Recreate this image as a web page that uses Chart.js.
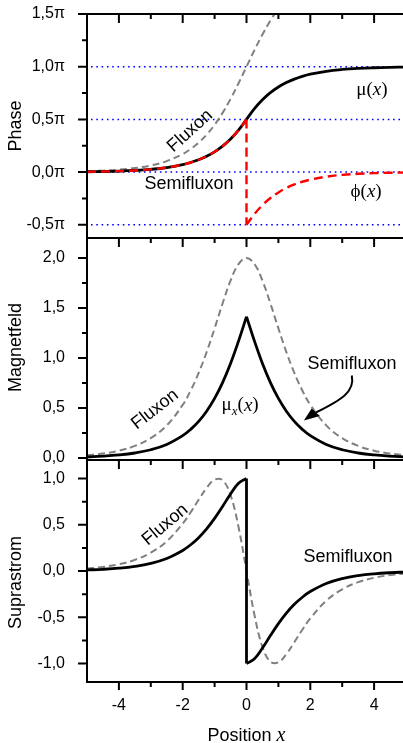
<!DOCTYPE html>
<html>
<head>
<meta charset="utf-8">
<script src="https://cdn.jsdelivr.net/npm/chart.js@4.4.0/dist/chart.umd.min.js"></script>
<style>
  html, body { margin: 0; padding: 0; background: #fff; }
  body { width: 403px; height: 743px; overflow: hidden; position: relative; }
  canvas { position: absolute; left: 0; }
</style>
</head>
<body>
<canvas id="phaseChart" width="406" height="284" style="top:-16px"></canvas>
<canvas id="fieldChart" width="406" height="282" style="top:208px"></canvas>
<canvas id="currentChart" width="406" height="313" style="top:430px"></canvas>
<script>
// positions along the junction
const xAll = [-5, -4.5, -4, -3.5, -3, -2.5, -2, -1.75, -1.5, -1.25, -1, -0.75, -0.5, -0.25, 0,
              0.25, 0.5, 0.75, 1, 1.25, 1.5, 1.75, 2, 2.5, 3, 3.5, 4, 4.5, 5];
const xLeft = [-5, -4.5, -4, -3.5, -3, -2.5, -2, -1.75, -1.5, -1.25, -1, -0.75, -0.5, -0.25, 0];
const xRight = [0, 0.25, 0.5, 0.75, 1, 1.25, 1.5, 1.75, 2, 2.5, 3, 3.5, 4, 4.5, 5];
const xTicks = [-4, -2, 0, 2, 4];

// phase (units of pi)
const fluxonPhase = [0.0086, 0.0141, 0.0233, 0.0384, 0.0633, 0.1043, 0.1713, 0.2191, 0.2795, 0.3553, 0.4488, 0.5619, 0.6942, 0.8425, 1.0,
                     1.1575, 1.3058, 1.4381, 1.5512, 1.6447, 1.7205, 1.7809, 1.8287, 1.8957, 1.9367, 1.9616, 1.9767, 1.9859, 1.9914];
const semiMu = [0.0036, 0.0059, 0.0097, 0.0159, 0.0263, 0.0433, 0.0713, 0.0915, 0.1173, 0.1504, 0.1925, 0.2460, 0.3134, 0.3973, 0.5,
                0.6027, 0.6866, 0.7540, 0.8075, 0.8496, 0.8827, 0.9085, 0.9287, 0.9567, 0.9737, 0.9841, 0.9903, 0.9941, 0.9964];
const semiPhiLeft = [0.0036, 0.0059, 0.0097, 0.0159, 0.0263, 0.0433, 0.0713, 0.0915, 0.1173, 0.1504, 0.1925, 0.2460, 0.3134, 0.3973, 0.5];
const semiPhiRight = [-0.5, -0.3973, -0.3134, -0.2460, -0.1925, -0.1504, -0.1173, -0.0915, -0.0713, -0.0433, -0.0263, -0.0159, -0.0097, -0.0059, -0.0036];
const phaseTicks = [-0.5, 0, 0.5, 1.0, 1.5];
const phaseGuides = [1.0, 0.5, 0, -0.5];

// magnetic field
const fluxonField = [0.0270, 0.0444, 0.0732, 0.1207, 0.1987, 0.3261, 0.5316, 0.6747, 0.8502, 1.0591, 1.2961, 1.5448, 1.7736, 1.9391, 2.0,
                     1.9391, 1.7736, 1.5448, 1.2961, 1.0591, 0.8502, 0.6747, 0.5316, 0.3261, 0.1987, 0.1207, 0.0732, 0.0444, 0.0270];
const semiFieldLeft = [0.0112, 0.0184, 0.0303, 0.0500, 0.0825, 0.1358, 0.2235, 0.2864, 0.3666, 0.4681, 0.5957, 0.7538, 0.9453, 1.1687, 1.4142];
const semiFieldRight = [1.4142, 1.1687, 0.9453, 0.7538, 0.5957, 0.4681, 0.3666, 0.2864, 0.2235, 0.1358, 0.0825, 0.0500, 0.0303, 0.0184, 0.0112];
const fieldTicks = [0, 0.5, 1.0, 1.5, 2.0];

// supercurrent
const fluxonCurrent = [0.0269, 0.0444, 0.0732, 0.1205, 0.1977, 0.3218, 0.5125, 0.6352, 0.7695, 0.8984, 0.9871, 0.9812, 0.8196, 0.4749, 0,
                       -0.4749, -0.8196, -0.9812, -0.9871, -0.8984, -0.7695, -0.6352, -0.5125, -0.3218, -0.1977, -0.1205, -0.0732, -0.0444, -0.0269];
const semiCurrentLeft = [0.0112, 0.0184, 0.0303, 0.0500, 0.0824, 0.1355, 0.2221, 0.2835, 0.3604, 0.4551, 0.5687, 0.6982, 0.8330, 0.9484, 1.0];
const semiCurrentRight = [-1.0, -0.9484, -0.8330, -0.6982, -0.5687, -0.4551, -0.3604, -0.2835, -0.2221, -0.1355, -0.0824, -0.0500, -0.0303, -0.0184, -0.0112];
const currentTicks = [-1.0, -0.5, 0, 0.5, 1.0];

const SANS = '"Liberation Sans", Arial, sans-serif';
const SERIF = '"Liberation Serif", "Times New Roman", serif';
const GREY = '#808080';

function pts(xs, ys) {
  return xs.map((x, i) => ({ x: x, y: ys[i] }));
}

// two branches meeting at x = 0; the gaps keep the spline from bending across the jump
function splitAtZero(left, right) {
  const gap = { x: 0, y: null };
  return [].concat(pts(xLeft, left), [gap, { x: 0, y: left[left.length - 1] }, { x: 0, y: right[0] }, gap], pts(xRight, right));
}

function midpoints(vals) {
  const out = [];
  for (let i = 0; i < vals.length - 1; i++) out.push((vals[i] + vals[i + 1]) / 2);
  return out;
}

const comma = v => v.toFixed(1).replace('.', ',');

const blackLine = { borderColor: '#000', borderWidth: 2.8, pointRadius: 0, tension: 0.4, fill: false };
const greyDash = { borderColor: GREY, borderWidth: 2, borderDash: [7, 4], pointRadius: 0, tension: 0.4, fill: false };
const redDash = { borderColor: '#ff0000', borderWidth: 2.4, borderDash: [9, 5], pointRadius: 0, tension: 0.4, fill: false };

function drawRich(ctx, parts, x, y, angle) {
  ctx.save();
  ctx.translate(x, y);
  ctx.rotate((angle || 0) * Math.PI / 180);
  ctx.textBaseline = 'middle';
  ctx.textAlign = 'left';
  ctx.fillStyle = '#000';
  let total = 0;
  parts.forEach(p => { ctx.font = p.font; p.w = ctx.measureText(p.t).width; total += p.w; });
  let cx = -total / 2;
  parts.forEach(p => {
    ctx.font = p.font;
    ctx.fillText(p.t, cx, p.dy || 0);
    cx += p.w;
  });
  ctx.restore();
}

const sans = t => ({ t: t, font: '18px ' + SANS });
const upr = t => ({ t: t, font: '19px ' + SERIF });
const ital = t => ({ t: t, font: 'italic 19px ' + SERIF });

function decor(cfg) {
  return {
    id: 'decor' + cfg.name,
    beforeDatasetsDraw(chart) {
      if (!cfg.guides) return;
      const ctx = chart.ctx, a = chart.chartArea, y = chart.scales.y;
      ctx.save();
      ctx.strokeStyle = '#0000ff';
      ctx.lineWidth = 1.5;
      ctx.setLineDash([1.6, 3.7]);
      cfg.guides.forEach(v => {
        const py = y.getPixelForValue(v);
        ctx.beginPath();
        ctx.moveTo(a.left + 4, py);
        ctx.lineTo(a.right, py);
        ctx.stroke();
      });
      ctx.restore();
    },
    afterDatasetsDraw(chart) {
      const ctx = chart.ctx, a = chart.chartArea, x = chart.scales.x, y = chart.scales.y;
      ctx.save();
      ctx.strokeStyle = '#000';
      ctx.lineWidth = 2;
      ctx.strokeRect(a.left, a.top, a.right - a.left, a.bottom - a.top);

      ctx.beginPath();
      cfg.yTicks.forEach(v => { const p = y.getPixelForValue(v); ctx.moveTo(a.left - 9, p); ctx.lineTo(a.left, p); });
      midpoints(cfg.yTicks).forEach(v => { const p = y.getPixelForValue(v); ctx.moveTo(a.left - 5, p); ctx.lineTo(a.left, p); });
      xTicks.forEach(v => { const p = x.getPixelForValue(v); ctx.moveTo(p, a.top); ctx.lineTo(p, a.top + 9); });
      midpoints(xTicks).forEach(v => { const p = x.getPixelForValue(v); ctx.moveTo(p, a.top); ctx.lineTo(p, a.top + 5); });
      if (cfg.xAxis) {
        xTicks.forEach(v => { const p = x.getPixelForValue(v); ctx.moveTo(p, a.bottom); ctx.lineTo(p, a.bottom + 8); });
        midpoints(xTicks).forEach(v => { const p = x.getPixelForValue(v); ctx.moveTo(p, a.bottom); ctx.lineTo(p, a.bottom + 5); });
      }
      ctx.stroke();

      // axis title, rotated
      ctx.save();
      ctx.translate(16.5, (a.top + a.bottom) / 2 + cfg.titleShift);
      ctx.rotate(-Math.PI / 2);
      ctx.font = '18px ' + SANS;
      ctx.fillStyle = '#000';
      ctx.textAlign = 'center';
      ctx.textBaseline = 'middle';
      ctx.fillText(cfg.title, 0, 0);
      ctx.restore();

      if (cfg.xAxis) {
        drawRich(ctx, [sans('Position '), { t: 'x', font: 'italic 20px ' + SERIF }], (a.left + a.right) / 2, a.bottom + 54, 0);
      }

      cfg.labels.forEach(l => {
        drawRich(ctx, l.parts, x.getPixelForValue(l.x), y.getPixelForValue(l.y), l.rot);
      });

      if (cfg.arrow) {
        const P = q => [x.getPixelForValue(q[0]), y.getPixelForValue(q[1])];
        const s = P(cfg.arrow.from), c1 = P(cfg.arrow.c1), c2 = P(cfg.arrow.c2), e = P(cfg.arrow.to);
        const t = P(cfg.arrow.tip), wa = P(cfg.arrow.wingA), wb = P(cfg.arrow.wingB);
        ctx.lineWidth = 2;
        ctx.beginPath();
        ctx.moveTo(s[0], s[1]);
        ctx.bezierCurveTo(c1[0], c1[1], c2[0], c2[1], e[0], e[1]);
        ctx.stroke();
        ctx.fillStyle = '#000';
        ctx.beginPath();
        ctx.moveTo(t[0], t[1]);
        ctx.lineTo(wa[0], wa[1]);
        ctx.lineTo(wb[0], wb[1]);
        ctx.closePath();
        ctx.fill();
      }
      ctx.restore();
    }
  };
}

function makePanel(id, cfg) {
  const tickFont = { family: SANS, size: 16 };
  return new Chart(document.getElementById(id), {
    type: 'line',
    data: { datasets: cfg.datasets },
    options: {
      responsive: false,
      animation: false,
      devicePixelRatio: 1,
      layout: { padding: { top: 30, bottom: cfg.xAxis ? 0 : 30, left: 0, right: 0 } },
      plugins: { legend: { display: false }, tooltip: { enabled: false } },
      scales: {
        x: {
          type: 'linear', min: -5, max: 5,
          display: !!cfg.xAxis,
          grid: { display: false },
          border: { display: false },
          ticks: { font: tickFont, color: '#000', padding: 6, maxRotation: 0, callback: v => String(v) },
          afterBuildTicks: s => { s.ticks = xTicks.map(v => ({ value: v })); },
          afterFit: s => { s.height = cfg.xAxis ? 61 : 0; }
        },
        y: {
          type: 'linear', min: cfg.yMin, max: cfg.yMax,
          grid: { display: false },
          border: { display: false },
          ticks: { font: tickFont, color: '#000', padding: 14, callback: cfg.fmt },
          afterBuildTicks: s => { s.ticks = cfg.yTicks.map(v => ({ value: v })); },
          afterFit: s => { s.width = 87; }
        }
      }
    },
    plugins: [decor(cfg)]
  });
}

makePanel('phaseChart', {
  name: 'Phase', title: 'Phase', titleShift: 0,
  yMin: -0.625, yMax: 1.5, yTicks: phaseTicks, fmt: v => comma(v) + 'π',
  guides: phaseGuides,
  datasets: [
    Object.assign({ label: 'φ(x)', data: splitAtZero(semiPhiLeft, semiPhiRight), order: 0 }, redDash),
    Object.assign({ label: 'μ(x)', data: pts(xAll, semiMu), order: 1 }, blackLine),
    Object.assign({ label: 'Fluxon', data: pts(xAll, fluxonPhase), order: 2 }, greyDash)
  ],
  labels: [
    { parts: [sans('Fluxon')], x: -1.77, y: 0.39, rot: -42 },
    { parts: [sans('Semifluxon')], x: -1.80, y: -0.11, rot: 0 },
    { parts: [upr('μ('), ital('x'), upr(')')], x: 3.93, y: 0.78, rot: 0 },
    { parts: [upr('ϕ('), ital('x'), upr(')')], x: 3.75, y: -0.19, rot: 0 }
  ]
});

makePanel('fieldChart', {
  name: 'Field', title: 'Magnetfeld', titleShift: -1.5,
  yMin: -0.02, yMax: 2.2, yTicks: fieldTicks, fmt: v => comma(v),
  datasets: [
    Object.assign({ label: 'Semifluxon', data: splitAtZero(semiFieldLeft, semiFieldRight), order: 0 }, blackLine),
    Object.assign({ label: 'Fluxon', data: pts(xAll, fluxonField), order: 1 }, greyDash)
  ],
  labels: [
    { parts: [sans('Fluxon')], x: -2.87, y: 0.485, rot: -38 },
    { parts: [upr('μ'), { t: 'x', font: 'italic 13px ' + SERIF, dy: 6 }, upr('('), ital('x'), upr(')')], x: -0.2, y: 0.525, rot: 0 },
    { parts: [sans('Semifluxon')], x: 3.31, y: 0.94, rot: 0 }
  ],
  arrow: { from: [3.30, 0.825], c1: [3.42, 0.66], c2: [2.93, 0.575], to: [2.18, 0.456],
           tip: [1.80, 0.376], wingA: [2.04, 0.495], wingB: [2.30, 0.421] }
});

makePanel('currentChart', {
  name: 'Current', title: 'Suprastrom', titleShift: 11.5, xAxis: true,
  yMin: -1.2, yMax: 1.2, yTicks: currentTicks, fmt: v => comma(v),
  datasets: [
    Object.assign({ label: 'Semifluxon', data: splitAtZero(semiCurrentLeft, semiCurrentRight), order: 0 }, blackLine),
    Object.assign({ label: 'Fluxon', data: pts(xAll, fluxonCurrent), order: 1 }, greyDash)
  ],
  labels: [
    { parts: [sans('Fluxon')], x: -2.55, y: 0.5, rot: -40 },
    { parts: [sans('Semifluxon')], x: 3.18, y: 0.154, rot: 0 }
  ]
});
</script>
</body>
</html>
